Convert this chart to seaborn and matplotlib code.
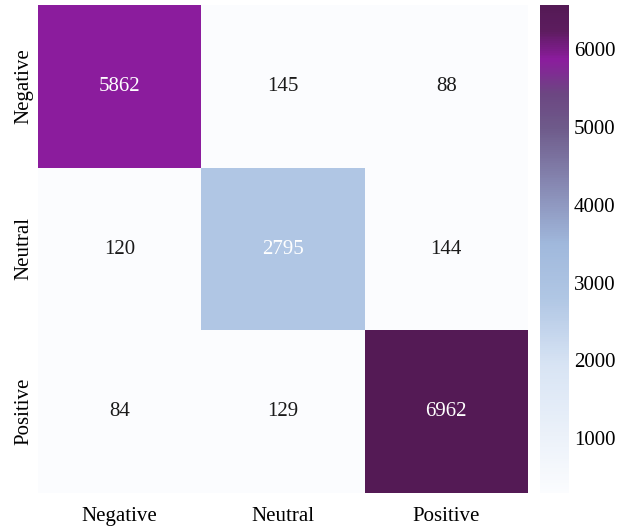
import numpy as np
import pandas as pd
import matplotlib
matplotlib.use("Agg")
import matplotlib.pyplot as plt
from matplotlib.colors import LinearSegmentedColormap
import seaborn as sns

labels = ["Negative", "Neutral", "Positive"]
row_negative = [5862, 145, 88]
row_neutral = [120, 2795, 144]
row_positive = [84, 129, 6962]

cm = pd.DataFrame([row_negative, row_neutral, row_positive], index=labels, columns=labels)

cmap = LinearSegmentedColormap.from_list("ref", [
    (0.0, "#fbfcfe"),
    (0.26, "#d8e4f4"),
    (0.40, "#b0c6e4"),
    (0.51, "#a0b8dc"),
    (0.75, "#6e5a8a"),
    (0.82, "#6c4682"),
    (0.89, "#8b1c9d"),
    (0.95, "#5c1c5e"),
    (1.0, "#541a55"),
])

plt.rcParams['font.family'] = ['Liberation Serif', 'DejaVu Serif']
W, H = 621, 529
fig = plt.figure(figsize=(W / 100, H / 100), dpi=100)
ax = fig.add_axes([38 / W, (H - 493) / H, 490 / W, 488 / H])
cax = fig.add_axes([540 / W, (H - 493) / H, 29 / W, 488 / H])

sns.heatmap(cm, annot=True, fmt="d", cmap=cmap, vmin=300, vmax=6560,
            ax=ax, cbar_ax=cax, annot_kws={"fontsize": 15})
for t in ax.texts:
    t.set_color("white" if int(t.get_text()) > 1000 else "#1a1a1a")
ax.tick_params(length=0, labelsize=15)
ax.tick_params(axis="x", pad=10)
ax.set_yticklabels(labels, rotation=90, va="center")
ax.set_xticklabels(labels, rotation=0)
cax.tick_params(length=0, labelsize=15)
cax.set_frame_on(False)

fig.savefig("out.png", dpi=100)
